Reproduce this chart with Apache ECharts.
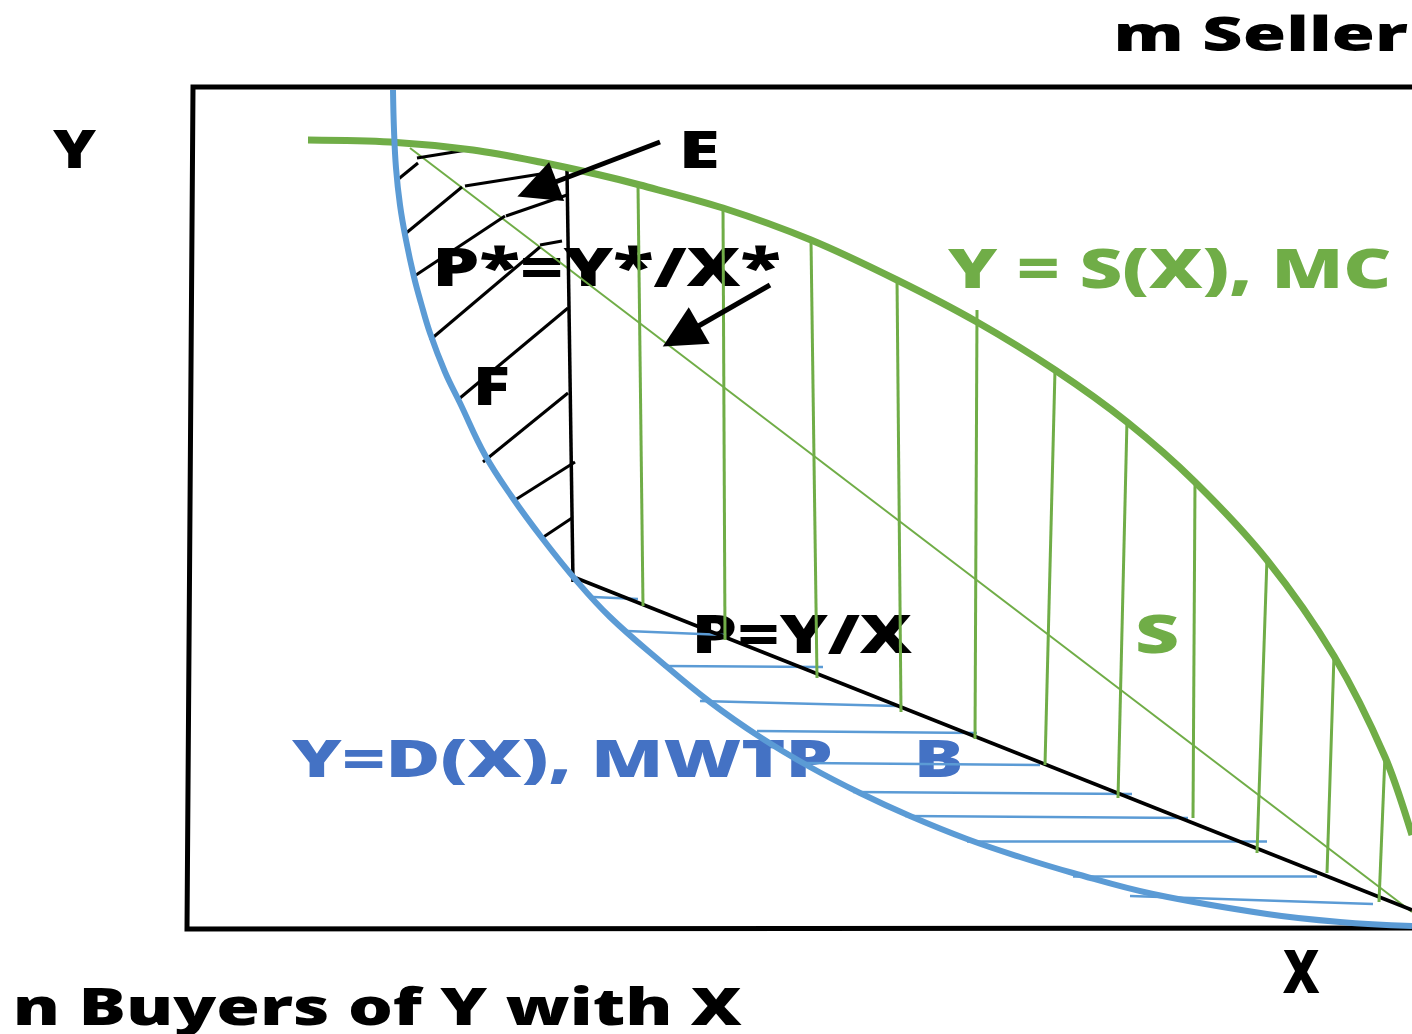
<!DOCTYPE html>
<html>
<head>
<meta charset="utf-8">
<title>n Buyers of Y with X</title>
<script src="https://cdn.jsdelivr.net/npm/echarts@6/dist/echarts.min.js"></script>
<style>
html, body { margin: 0; padding: 0; background: #fff; }
#chart { width: 1412px; height: 1034px; }
</style>
</head>
<body>
<div id="chart"></div>
<script>
// all values are in picture units: x to the right, y downwards

// plot frame (open on the right)
const frameX = [1412, 193, 187, 1412];
const frameY = [87, 87, 929, 928];

// demand curve, Y = D(X)
const demandX = [393, 394, 396, 400, 406, 414, 421, 430, 445, 460, 485, 512, 542, 575, 610, 660, 710, 760, 810, 860, 910, 967, 1020, 1073, 1153, 1267, 1340, 1412];
const demandY = [90, 130, 168, 205, 240, 277, 303, 333, 372, 403, 455, 497, 538, 579, 617, 661, 702, 737, 767, 793, 816, 839, 857, 873, 894, 914, 922, 926];

// supply curve, Y = S(X)
const supplyX = [308, 390, 473, 540, 600, 640, 723, 811, 897, 977, 1055, 1127, 1195, 1267, 1334, 1385, 1412];
const supplyY = [140, 142, 150, 162, 175, 185, 208, 240, 280, 322, 370, 422, 482, 560, 656, 757, 835];

// straight lines: P* ray, E vertical, P = Y/X
const rayStar = [[410, 148], [1412, 912]];
const eDrop = [[567, 170], [573, 582]];
const priceLine = [[576, 578], [1412, 910]];

// hatching segments [x1, y1, x2, y2]
const fHatch = [
  [417, 158, 473, 149], [396, 181, 418, 163], [405, 234, 462, 187], [465, 186, 547, 173],
  [506, 216, 567, 195], [413, 277, 505, 216], [540, 245, 562, 241], [430, 340, 540, 247],
  [460, 398, 568, 308], [483, 462, 568, 393], [515, 500, 575, 462], [542, 538, 572, 518]
];
const sHatch = [
  [638, 185, 643, 606], [723, 208, 725, 640], [811, 240, 817, 678], [897, 278, 901, 712],
  [977, 310, 975, 739], [1055, 370, 1045, 765], [1127, 420, 1118, 798], [1195, 482, 1193, 818],
  [1267, 558, 1257, 853], [1334, 655, 1327, 873], [1385, 755, 1379, 902]
];
const bHatch = [
  [593, 597, 638, 599], [627, 631, 725, 635], [663, 666, 823, 667], [700, 701, 897, 706],
  [757, 731, 977, 733], [805, 763, 1040, 765], [853, 792, 1132, 794], [905, 816, 1188, 818],
  [967, 841, 1267, 841], [1073, 876, 1317, 876], [1130, 896, 1373, 904]
];

// arrows: tail, head centre
const arrows = [
  [[660, 142], [537, 189]],
  [[770, 285], [681, 336]]
];

// label texts
const labelTexts = ['Y', 'E', 'P*=Y*/X*', 'F', 'Y = S(X), MC', 'P=Y/X', 'S', 'Y=D(X), MWTP', 'B', 'X', 'm Seller', 'n Buyers of Y with X'];

const GREEN = '#70ad47';
const BLUE = '#5b9bd5';
const BLUE_TEXT = '#4472c4';
const FONT = '"Open Sans", "DejaVu Sans", sans-serif';

function pairs(xs, ys) {
  return xs.map((x, i) => [x, ys[i]]);
}
function segs(list) {
  return list.map(s => ({ coords: [[s[0], s[1]], [s[2], s[3]]] }));
}

// text box: left, right, cap top, cap bottom, colour
const labelBoxes = [
  [53, 97, 130, 168, '#000'],
  [683, 717, 131, 168, '#000'],
  [438, 780, 248, 286, '#000'],
  [478, 508, 367, 405, '#000'],
  [948, 1390, 249, 288, GREEN],
  [697, 913, 615, 653, '#000'],
  [1138, 1177, 615, 653, GREEN],
  [292, 831, 740, 777, BLUE_TEXT],
  [918, 960, 740, 777, BLUE_TEXT],
  [1283, 1320, 950, 993, '#000'],
  [1118, 1408, 17, 51, '#000'],
  [17, 742, 988, 1025, '#000']
];

const ctx = document.createElement('canvas').getContext('2d');
function makeLabel(text, box) {
  const [left, right, top, bottom, color] = box;
  ctx.font = '800 100px ' + FONT;
  ctx.textBaseline = 'middle';
  const h = ctx.measureText('H');
  const capRatio = (h.actualBoundingBoxAscent + h.actualBoundingBoxDescent) / 100;
  const size = Math.round((bottom - top) / capRatio);
  const font = '800 ' + size + 'px ' + FONT;
  ctx.font = font;
  const hm = ctx.measureText('H');
  const m = ctx.measureText(text);
  const ink = m.actualBoundingBoxLeft + m.actualBoundingBoxRight;
  const sx = (right - left) / ink;
  const capMid = (hm.actualBoundingBoxDescent - hm.actualBoundingBoxAscent) / 2;
  return {
    type: 'text',
    x: left + m.actualBoundingBoxLeft * sx,
    y: (top + bottom) / 2 - capMid,
    scaleX: sx,
    z: 0,
    silent: true,
    style: { text: text, font: font, fill: color, align: 'left', verticalAlign: 'middle' }
  };
}

const chart = echarts.init(document.getElementById('chart'));

chart.setOption({
  animation: false,
  backgroundColor: '#fff',
  grid: { left: 0, right: 0, top: 0, bottom: 0 },
  xAxis: { type: 'value', min: 0, max: 1412, show: false },
  yAxis: { type: 'value', min: 0, max: 1034, inverse: true, show: false },
  graphic: labelTexts.map((t, i) => makeLabel(t, labelBoxes[i])),
  series: [
    {
      type: 'lines',
      coordinateSystem: 'cartesian2d',
      polyline: true,
      silent: true,
      data: [{ coords: pairs(frameX, frameY) }],
      lineStyle: { color: '#000', width: 5, opacity: 1 }
    },
    {
      type: 'lines',
      coordinateSystem: 'cartesian2d',
      silent: true,
      data: segs(bHatch),
      lineStyle: { color: BLUE, width: 2.5, opacity: 1 }
    },
    {
      type: 'lines',
      coordinateSystem: 'cartesian2d',
      silent: true,
      data: [{ coords: rayStar }],
      lineStyle: { color: GREEN, width: 2, opacity: 1 }
    },
    {
      type: 'lines',
      coordinateSystem: 'cartesian2d',
      silent: true,
      data: [{ coords: eDrop }, { coords: priceLine }],
      lineStyle: { color: '#000', width: 3.5, opacity: 1 }
    },
    {
      type: 'lines',
      coordinateSystem: 'cartesian2d',
      silent: true,
      data: segs(sHatch),
      lineStyle: { color: GREEN, width: 3, opacity: 1 }
    },
    {
      type: 'lines',
      coordinateSystem: 'cartesian2d',
      silent: true,
      data: segs(fHatch),
      lineStyle: { color: '#000', width: 3, opacity: 1 }
    },
    {
      type: 'line',
      data: pairs(supplyX, supplyY),
      smooth: 0.3,
      symbol: 'none',
      silent: true,
      lineStyle: { color: GREEN, width: 7 },
      z: 4
    },
    {
      type: 'line',
      data: pairs(demandX, demandY),
      smooth: 0.4,
      symbol: 'none',
      silent: true,
      lineStyle: { color: BLUE, width: 6 },
      z: 5
    },
    {
      type: 'lines',
      coordinateSystem: 'cartesian2d',
      silent: true,
      symbol: ['none', 'triangle'],
      symbolSize: [0, 42],
      data: arrows.map(a => ({ coords: a })),
      lineStyle: { color: '#000', width: 5, opacity: 1 },
      z: 6
    }
  ]
});
</script>
</body>
</html>
